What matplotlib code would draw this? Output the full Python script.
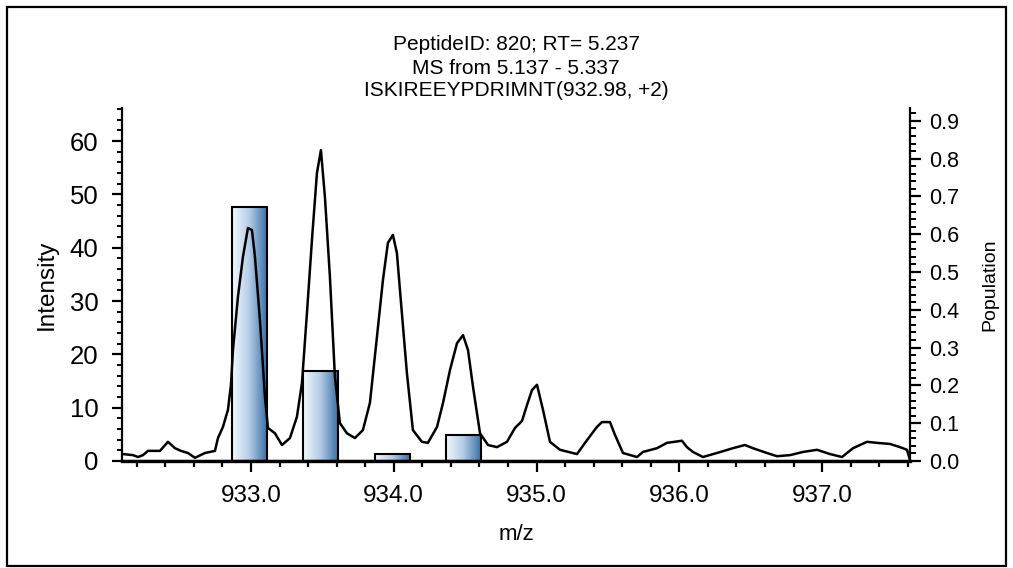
import matplotlib
matplotlib.use("Agg")
import matplotlib.pyplot as plt
import numpy as np
from matplotlib.colors import LinearSegmentedColormap
from matplotlib.patches import Rectangle
from matplotlib.ticker import MultipleLocator, FormatStrFormatter

plt.rcParams['font.family'] = ['Liberation Sans', 'DejaVu Sans']

# ---- data ----
title_lines = ["PeptideID: 820; RT= 5.237",
               "MS from 5.137 - 5.337",
               "ISKIREEYPDRIMNT(932.98, +2)"]

spec_mz = [932.104, 932.174, 932.209, 932.244, 932.279, 932.363, 932.419, 932.468,
           932.510, 932.559, 932.608, 932.678, 932.748, 932.769, 932.804, 932.839,
           932.860, 932.874, 932.909, 932.944, 932.979, 933.007, 933.028, 933.063,
           933.098, 933.119, 933.168, 933.217, 933.273, 933.322, 933.357, 933.392,
           933.427, 933.462, 933.490, 933.518, 933.553, 933.588, 933.623, 933.672,
           933.728, 933.784, 933.833, 933.882, 933.924, 933.959, 933.994, 934.022,
           934.057, 934.092, 934.134, 934.197, 934.239, 934.303, 934.345, 934.394,
           934.443, 934.485, 934.520, 934.555, 934.604, 934.660, 934.723, 934.793,
           934.849, 934.898, 934.933, 934.968, 935.003, 935.045, 935.094, 935.164,
           935.283, 935.353, 935.423, 935.458, 935.514, 935.549, 935.605, 935.703,
           935.745, 935.843, 935.913, 936.018, 936.053, 936.095, 936.165, 936.263,
           936.375, 936.459, 936.515, 936.613, 936.683, 936.775, 936.866, 936.964,
           937.055, 937.139, 937.216, 937.314, 937.384, 937.475, 937.545, 937.594,
           937.615]
spec_int = [1.3, 1.1, 0.75, 1.1, 1.9, 1.9, 3.6, 2.4,
            1.9, 1.5, 0.6, 1.5, 1.9, 4.3, 6.4, 9.6,
            14.3, 20.8, 30.8, 38.3, 43.7, 43.3, 38.3, 26.4,
            12.0, 6.2, 5.2, 3.0, 4.3, 8.3, 14.6, 27.7,
            41.4, 54.0, 58.3, 49.5, 34.5, 15.8, 7.1, 5.2,
            4.3, 5.8, 10.9, 23.2, 33.9, 40.9, 42.4, 39.0,
            27.7, 16.5, 5.8, 3.6, 3.4, 6.4, 10.9, 17.1,
            22.1, 23.6, 20.8, 13.9, 5.2, 3.0, 2.6, 3.6,
            6.2, 7.5, 10.5, 13.3, 14.3, 9.6, 3.6, 2.1,
            1.3, 3.9, 6.4, 7.3, 7.3, 4.9, 1.5, 0.75,
            1.7, 2.4, 3.4, 3.8, 2.6, 1.7, 0.75, 1.5,
            2.4, 3.0, 2.4, 1.5, 0.9, 1.1, 1.7, 2.1,
            1.3, 0.75, 2.4, 3.6, 3.4, 3.2, 2.6, 2.1,
            0.2]

bar_mz = [932.99, 933.49, 933.99, 934.49]
bar_pop = [0.672, 0.238, 0.0185, 0.069]
bar_width = 0.245

# ---- figure ----
fig = plt.figure(figsize=(10.13, 5.68), dpi=100)
fig.patch.set_facecolor('white')
fig.patches.append(Rectangle((7/1013, 2/568), (1006-7)/1013, (566-7)/568,
                             transform=fig.transFigure, fill=False,
                             edgecolor='black', linewidth=1.6, zorder=0))

pos = [122/1013, 1-461/568, (910-122)/1013, (461-108)/568]
ax_pop = fig.add_axes(pos)
ax_int = ax_pop.twinx()

# bars (population, right axis)
cmap = LinearSegmentedColormap.from_list('g', ['#f4f8fc', '#b3cce6', '#3b70a8'])
grad = np.linspace(0, 1, 256).reshape(1, -1)
bars = ax_pop.bar(bar_mz, bar_pop, width=bar_width, facecolor='none',
                  edgecolor='black', linewidth=1.5, zorder=3)
for p in bars:
    x0, w, h = p.get_x(), p.get_width(), p.get_height()
    im = ax_pop.imshow(grad, cmap=cmap, extent=[x0, x0 + w, 0, h],
                       aspect='auto', zorder=2, interpolation='bicubic')
    im.set_clip_path(p)

# spectrum line (intensity, left axis)
ax_int.plot(spec_mz, spec_int, color='black', linewidth=1.8, zorder=4)

xlim = (932.097, 937.615)
ax_pop.set_xlim(*xlim)
ax_int.set_xlim(*xlim)
ax_pop.set_ylim(0, 0.934)
ax_int.set_ylim(0, 66.2)

# axis sides: intensity left, population right
ax_int.yaxis.tick_left()
ax_int.yaxis.set_label_position('left')
ax_pop.yaxis.tick_right()
ax_pop.yaxis.set_label_position('right')

for a in (ax_pop, ax_int):
    a.spines['top'].set_visible(False)
    for s in a.spines.values():
        s.set_linewidth(1.6)
ax_int.spines['right'].set_visible(False)
ax_pop.spines['left'].set_visible(False)
ax_int.spines['bottom'].set_linewidth(2.4)

# x axis
ax_pop.xaxis.set_major_locator(MultipleLocator(1.0))
ax_pop.xaxis.set_minor_locator(MultipleLocator(0.2))
ax_pop.xaxis.set_major_formatter(FormatStrFormatter('%.1f'))
ax_pop.tick_params(axis='x', which='major', direction='out', length=8, width=1.6,
                   labelsize=17.5, pad=9)
ax_pop.tick_params(axis='x', which='minor', direction='out', length=4.5, width=1.6)
ax_int.tick_params(axis='x', which='both', bottom=False, labelbottom=False)

# left y axis
ax_int.yaxis.set_major_locator(MultipleLocator(10))
ax_int.yaxis.set_minor_locator(MultipleLocator(2))
ax_int.tick_params(axis='y', which='major', direction='out', length=7, width=1.6,
                   labelsize=18.5, pad=10, left=True, right=False)
ax_int.tick_params(axis='y', which='minor', direction='out', length=3.5, width=1.4,
                   left=True, right=False)

# right y axis
ax_pop.yaxis.set_major_locator(MultipleLocator(0.1))
ax_pop.yaxis.set_minor_locator(MultipleLocator(0.02))
ax_pop.yaxis.set_major_formatter(FormatStrFormatter('%.1f'))
ax_pop.tick_params(axis='y', which='major', direction='out', length=8, width=1.6,
                   labelsize=15.5, pad=6, right=True, left=False)
ax_pop.tick_params(axis='y', which='minor', direction='out', length=4.5, width=1.4,
                   right=True, left=False)

# labels
ax_int.set_ylabel('Intensity', fontsize=17.5)
ax_int.yaxis.set_label_coords((47-122)/788, 0.5)
ax_pop.set_ylabel('Population', fontsize=14)
ax_pop.yaxis.set_label_coords((990-122)/788, 0.5)
ax_pop.set_xlabel('m/z', fontsize=16)
ax_pop.xaxis.set_label_coords(0.5, -(535-461)/353)
ax_int.yaxis.label.set_va('center')
ax_pop.yaxis.label.set_va('center')
ax_pop.xaxis.label.set_va('center')

cx = (122 + 910) / 2 / 1013
for line, ypx in zip(title_lines, [45, 68, 91]):
    fig.text(cx, 1 - ypx/568, line, ha='center', va='center', fontsize=15)

fig.savefig('out.png', dpi=100)
